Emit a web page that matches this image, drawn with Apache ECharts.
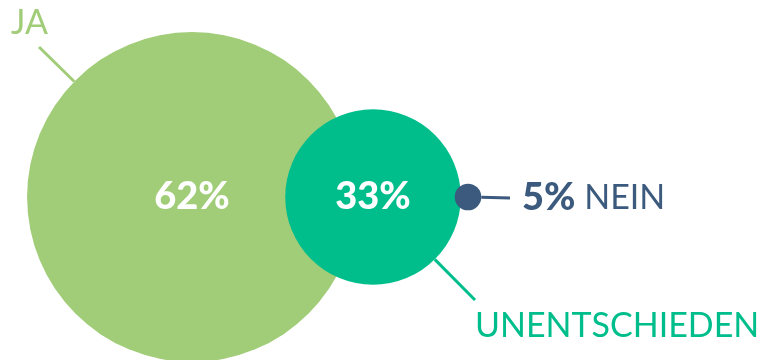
<!DOCTYPE html>
<html>
<head>
<meta charset="utf-8">
<script src="https://cdn.jsdelivr.net/npm/echarts@6/dist/echarts.min.js"></script>
<style>html,body{margin:0;padding:0;background:#fff}#c{width:763px;height:360px}</style>
</head>
<body>
<div id="c"></div>
<script>
// ---- data ----
const categories = ['JA', 'UNENTSCHIEDEN', 'NEIN'];
const values = [62, 33, 5];
const percentLabels = ['62%', '33%', '5%'];

// ---- layout / style ----
const colors = ['#A1CD79', '#00BE8C', '#3C5A7D'];
const centerX = [192, 373, 468];
const centerY = 197;
const sizePerUnit = 5.32;
const FONT = 'Lato';
// name label boxes (padding shapes where the leader line meets the label)
const nameLayout = [
  {x: 11, y: 47, verticalAlign: 'bottom', padding: [60, 19, 7, 0]},
  {x: 475, y: 343, verticalAlign: 'bottom', padding: [52, 0, 0, 0]},
  {x: 510, y: 198, verticalAlign: 'middle', padding: [0, 0, 0, 12]}
];

const pts = values.map((v, i) => ({
  value: [centerX[i], centerY, v],
  symbolSize: v * sizePerUnit,
  itemStyle: {color: colors[i], opacity: 1}
}));

const chart = echarts.init(document.getElementById('c'), null, {renderer: 'canvas'});
chart.setOption({
  animation: false,
  grid: {left: 0, right: 0, top: 0, bottom: 0},
  xAxis: {type: 'value', min: 0, max: 763, show: false},
  yAxis: {type: 'value', min: 0, max: 360, inverse: true, show: false},
  series: [
    {
      type: 'scatter',
      symbol: 'circle',
      z: 2,
      data: pts.map((p, i) => Object.assign({}, p, {
        label: {
          show: i < 2,
          position: 'inside',
          formatter: percentLabels[i],
          color: '#fff',
          opacity: 1,
          fontFamily: FONT,
          fontWeight: 900,
          fontSize: 38
        }
      }))
    },
    {
      type: 'scatter',
      symbol: 'circle',
      z: 3,
      silent: true,
      data: pts.map((p, i) => ({
        value: p.value,
        symbolSize: p.symbolSize,
        itemStyle: {color: 'rgba(255,255,255,0)', opacity: 1},
        label: {
          show: true,
          formatter: i === 2 ? '{p|' + percentLabels[i] + '} {n|' + categories[i] + '}' : categories[i],
          color: colors[i],
          opacity: 1,
          fontFamily: FONT,
          fontWeight: 'normal',
          fontSize: 34,
          backgroundColor: 'rgba(255,255,255,0)',
          padding: nameLayout[i].padding,
          rich: {
            p: {color: colors[2], fontFamily: FONT, fontWeight: 900, fontSize: 38},
            n: {color: colors[2], fontFamily: FONT, fontWeight: 'normal', fontSize: 34}
          }
        },
        labelLine: {
          show: true,
          length2: 0,
          lineStyle: {color: colors[i], width: 3, opacity: 1}
        }
      })),
      labelLayout: function (params) {
        const p = nameLayout[params.dataIndex];
        return {x: p.x, y: p.y, align: 'left', verticalAlign: p.verticalAlign};
      }
    }
  ]
});
</script>
</body>
</html>
